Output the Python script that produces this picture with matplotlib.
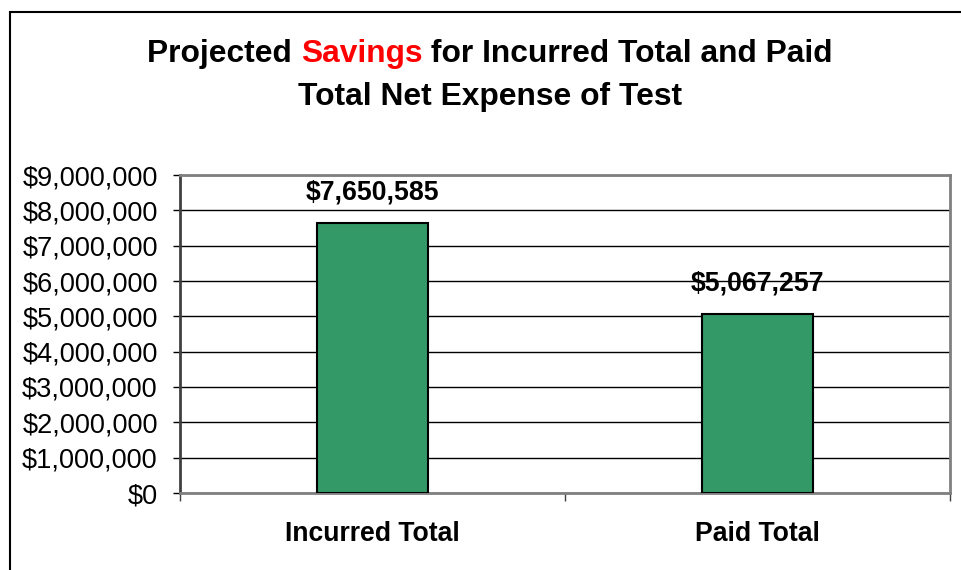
import matplotlib
matplotlib.use("Agg")
import matplotlib.pyplot as plt
from matplotlib.ticker import FuncFormatter, FixedLocator
from matplotlib.patches import Rectangle

categories = ["Incurred Total", "Paid Total"]
values = [7650585, 5067257]
title_line1 = ["Projected ", "Savings", " for Incurred Total and Paid"]
title_colors = ["black", "#ff0000", "black"]
title_line2 = "Total Net Expense of Test"

plt.rcParams['font.family'] = ['Liberation Sans', 'DejaVu Sans']

W, H = 961, 570
fig = plt.figure(figsize=(W / 100, H / 100), dpi=100)
fig.patch.set_facecolor("white")

# outer chart border (left and top visible; right/bottom run off the image)
fig.add_artist(Rectangle((9.5 / W, -0.5), 2.0, 1 - 11.5 / H + 0.5,
                         transform=fig.transFigure, fill=False,
                         edgecolor="black", linewidth=1.5, clip_on=False))

ax = fig.add_axes([180 / W, 1 - 493 / H, (950 - 180) / W, (493 - 175) / H])
x = list(range(len(categories)))
ax.bar(x, values, width=0.29, color="#339966", edgecolor="black", linewidth=1.5, zorder=3)
ax.set_xlim(-0.5, len(categories) - 0.5)
ax.set_ylim(0, 9000000)
ax.set_yticks(range(0, 9000001, 1000000))
ax.yaxis.set_major_formatter(FuncFormatter(lambda v, p: "${:,.0f}".format(v)))
ax.grid(axis="y", color="black", linewidth=1.0, zorder=1)
ax.set_axisbelow(True)

ax.set_xticks(x)
ax.set_xticklabels(categories, fontsize=19.2, fontweight="bold")
ax.xaxis.set_minor_locator(FixedLocator([i - 0.5 for i in range(len(categories) + 1)]))
ax.tick_params(axis="x", which="major", length=0, pad=20)
ax.tick_params(axis="x", which="minor", length=6, width=1.0, color="#404040", direction="out")
ax.tick_params(axis="y", which="major", length=5, width=1.0, color="black", pad=11,
               labelsize=19.5)

for side in ["top", "right"]:
    ax.spines[side].set_color("#808080")
    ax.spines[side].set_linewidth(2)
ax.spines["left"].set_color("#404040")
ax.spines["left"].set_linewidth(2)
ax.spines["bottom"].set_color("#808080")
ax.spines["bottom"].set_linewidth(2)

for xi, v in zip(x, values):
    ax.annotate("${:,.0f}".format(v), (xi, v), xytext=(0, 22), textcoords="offset points",
                ha="center", va="center", fontsize=19.2, fontweight="bold")

# Title line 1 with mixed colours, centered
fig.canvas.draw()
renderer = fig.canvas.get_renderer()
cx = 490 / W
y1 = 1 - 54 / H
texts = []
for s, c in zip(title_line1, title_colors):
    t = fig.text(0, y1, s, color=c, fontsize=22.9, fontweight="bold", ha="left", va="center")
    texts.append(t)
widths = [t.get_window_extent(renderer).width for t in texts]
total = sum(widths)
start = 490 - total / 2
pos = start
for t, w in zip(texts, widths):
    t.set_x(pos / W)
    pos += w
fig.text(cx, 1 - 97 / H, title_line2, fontsize=22.9, fontweight="bold", ha="center", va="center")

fig.savefig("out.png", dpi=100, facecolor="white")
